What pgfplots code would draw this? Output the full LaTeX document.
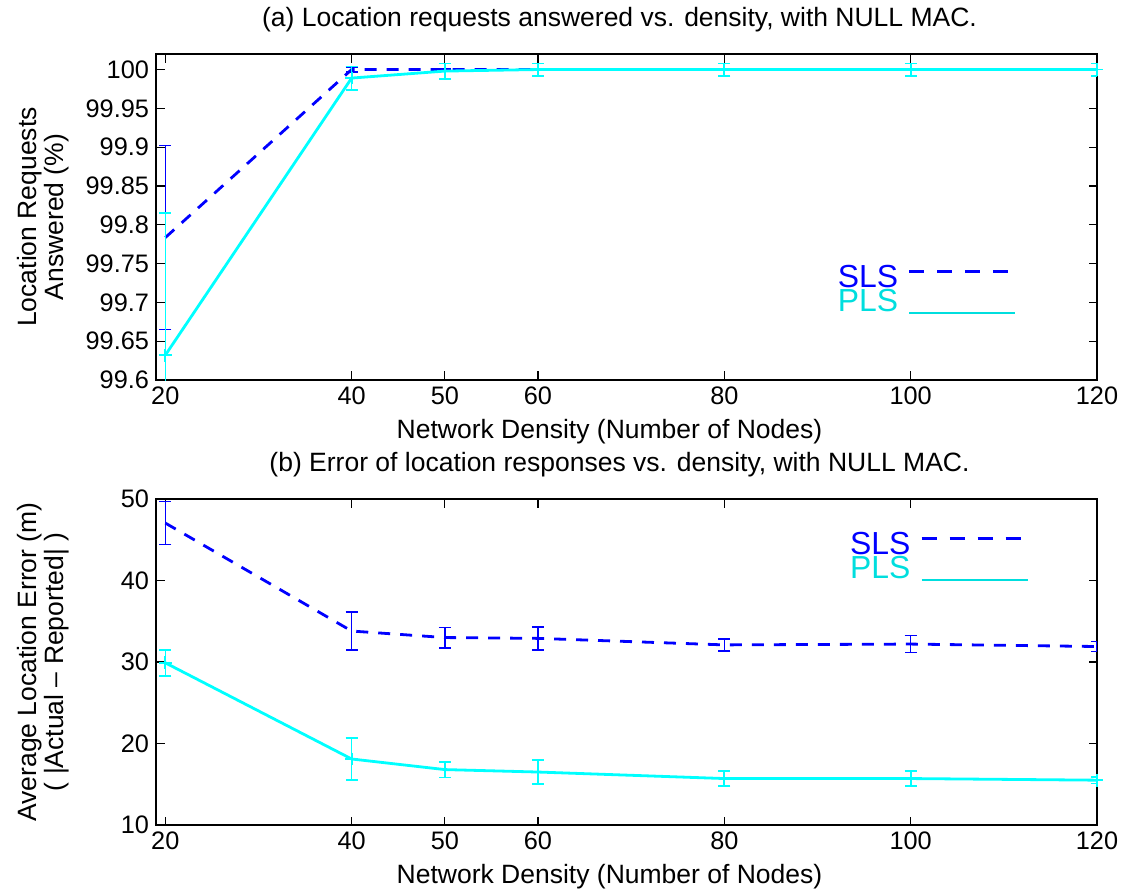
\documentclass[border=0pt]{standalone}
\usepackage{pgfplots}
\pgfplotsset{compat=1.18}
\usepackage{pgfplotstable}
\usepackage{fontspec}
\setmainfont{Liberation Sans}
\definecolor{mblue}{rgb}{0,0,1}
\definecolor{mcyan}{rgb}{0,1,1}
\definecolor{tcyan}{rgb}{0,0.87,0.87}

\pgfplotstableread{
x y ey
20 99.7835 0.1185
40 100.0 0.003
50 100.0 0.001
60 100.0 0.001
80 100.0 0.001
100 100.0 0.001
120 100.0 0.001
}\slsA
\pgfplotstableread{
x y ey
20 99.632 0.183
40 99.989 0.015
50 99.998 0.010
60 100.0 0.008
80 100.0 0.008
100 100.0 0.008
120 100.0 0.008
}\plsA
\pgfplotstableread{
x y ey
20 47.05 2.65
40 33.8 2.3
50 33.0 1.25
60 32.9 1.4
80 32.1 0.75
100 32.2 1.05
120 31.9 0.6
}\slsB
\pgfplotstableread{
x y ey
20 29.9 1.6
40 18.1 2.6
50 16.8 0.95
60 16.5 1.45
80 15.7 0.9
100 15.7 0.9
120 15.5 0.4
}\plsB

\pgfplotsset{
  myax/.style={
    scale only axis, width=470.5bp, height=163bp,
    xmin=19, xmax=120,
    xtick={20,40,50,60,80,100,120},
    scaled y ticks=false,
    tick label style={font=\fontsize{12.7}{14}\selectfont},
    label style={font=\fontsize{13.3}{13.6}\selectfont},
    title style={font=\fontsize{13.3}{15}\selectfont, at={(rel axis cs:0.5,1)}, anchor=base, yshift=8bp, xshift=-3.5bp},
    /pgf/number format/assume math mode=true,
    axis line style={line width=0.8bp},
    major tick style={line width=0.6bp, black},
    xlabel={Network Density (Number of Nodes)},
    xlabel style={at={(rel axis cs:0.5,0)}, anchor=base, yshift=-29bp, xshift=-8.5bp},
    ylabel style={at={(rel axis cs:-0.085,0.5)}, anchor=south, align=center},
    legend style={draw=none, fill=none, font=\fontsize{16}{16}\selectfont,
      inner sep=0pt, row sep=-2.5bp, nodes={inner sep=1bp}},
    legend cell align=left,
    legend plot pos=right,
  },
  slsstyle/.style={mblue, line width=1.4bp, dash pattern=on 6bp off 5bp, mark=none,
    error bars/.cd, y dir=both, y explicit,
    error bar style={line width=0.8bp, solid, draw=mblue},
    error mark options={rotate=90, mark size=3bp, line width=0.8bp, solid, draw=mblue},
    /pgfplots/.cd},
  plsstyle/.style={mcyan, line width=1.4bp, solid, mark=+,
    mark options={solid, draw=mcyan, line width=0.9bp, mark size=3.2bp},
    error bars/.cd, y dir=both, y explicit,
    error bar style={line width=0.8bp, solid, draw=mcyan},
    error mark options={rotate=90, mark size=3bp, line width=0.8bp, solid, draw=mcyan},
    /pgfplots/.cd},
}

\begin{document}
\begin{tikzpicture}
\path[use as bounding box] (-78bp,-256bp) rectangle (484.5bp,190bp);

\begin{axis}[myax, at={(0,0)}, anchor=south west,
  ymin=99.6, ymax=100.02,
  ytick={99.6,99.65,99.7,99.75,99.8,99.85,99.9,99.95,100},
  yticklabel style={/pgf/number format/fixed, /pgf/number format/precision=2},
  title={(a) Location requests answered vs. density, with NULL MAC.},
  ylabel={Location Requests\\Answered (\%)},
  legend style={at={(rel axis cs:0.722,0.36)}, anchor=north west},
]
\addplot[slsstyle,
  legend image code/.code={\path (0bp,0.3em); \draw[mblue, line width=1.2bp, dash pattern=on 7.5bp off 6.5bp] (4bp,0.3em) -- (54bp,0.3em);}]
  table[x=x, y=y, y error=ey] {\slsA};
\addplot[plsstyle,
  legend image code/.code={\path (0bp,-0.55em); \draw[tcyan, line width=1bp] (4bp,-0.55em) -- (57bp,-0.55em);}]
  table[x=x, y=y, y error=ey] {\plsA};
\legend{\textcolor{mblue}{SLS}, \textcolor{tcyan}{PLS}}
\end{axis}

\begin{axis}[myax, at={(0,-222.5bp)}, anchor=south west,
  ymin=10, ymax=50,
  ytick={10,20,30,40,50},
  title={(b) Error of location responses vs. density, with NULL MAC.},
  ylabel={Average Location Error (m)\\( |Actual -- Reported| )},
  legend style={at={(rel axis cs:0.735,0.906)}, anchor=north west},
]
\addplot[slsstyle,
  legend image code/.code={\path (0bp,0.3em); \draw[mblue, line width=1.2bp, dash pattern=on 7.5bp off 6.5bp] (4bp,0.3em) -- (54bp,0.3em);}]
  table[x=x, y=y, y error=ey] {\slsB};
\addplot[plsstyle,
  legend image code/.code={\path (0bp,-0.55em); \draw[tcyan, line width=1bp] (4bp,-0.55em) -- (57bp,-0.55em);}]
  table[x=x, y=y, y error=ey] {\plsB};
\legend{\textcolor{mblue}{SLS}, \textcolor{tcyan}{PLS}}
\end{axis}
\end{tikzpicture}
\end{document}
